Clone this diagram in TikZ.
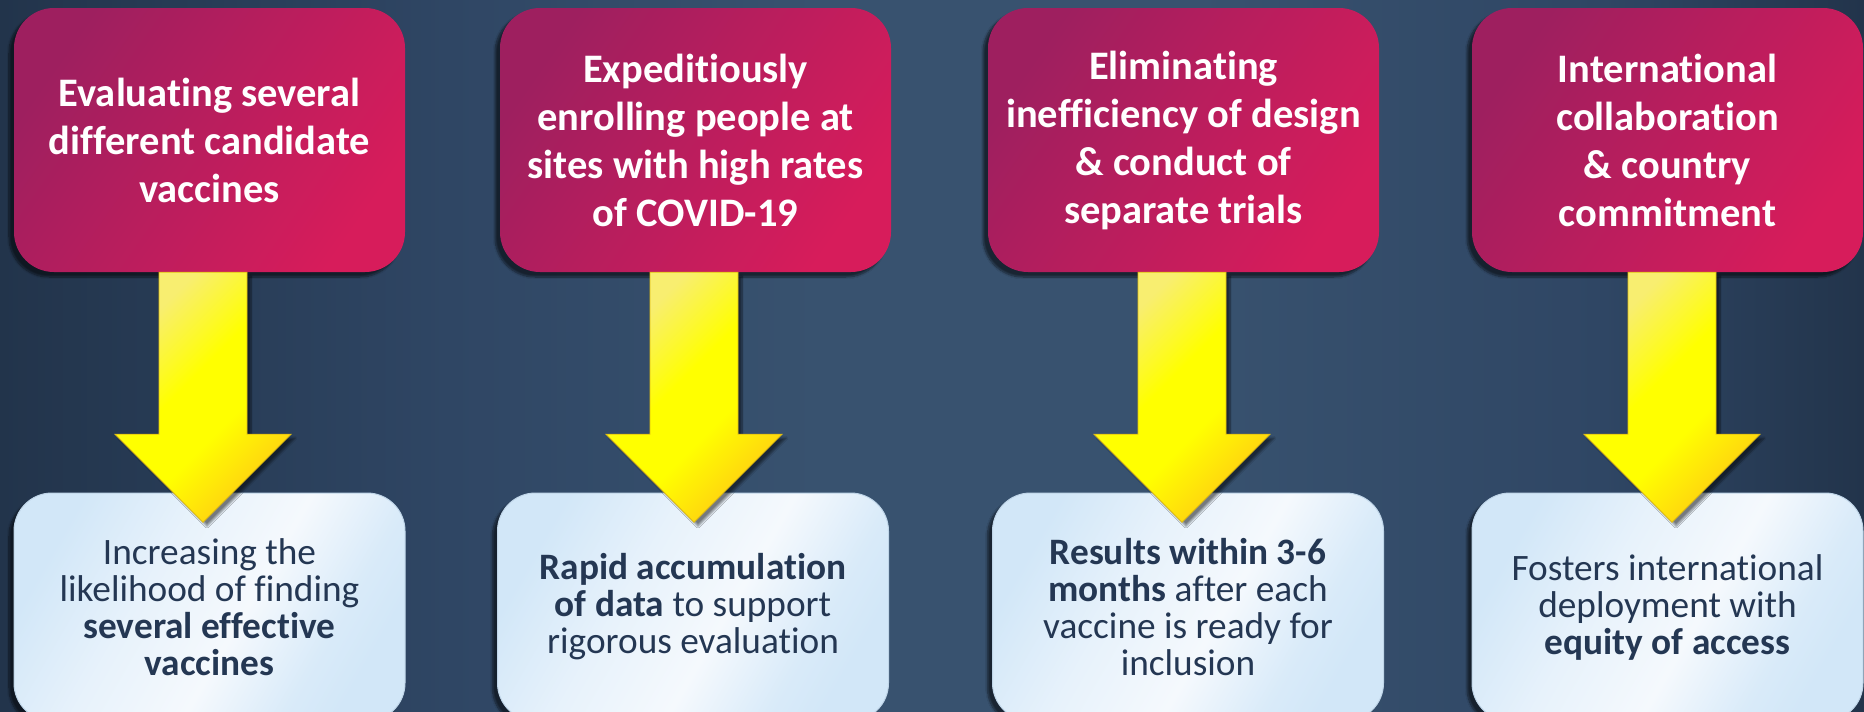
\documentclass[tikz,border=0pt]{standalone}
\usepackage{fontspec}
\setmainfont{Carlito}[Ligatures=NoCommon]
\usetikzlibrary{shadows.blur}
\definecolor{bgA}{HTML}{22344B}
\definecolor{bgB}{HTML}{2F4664}
\definecolor{bgC}{HTML}{38526F}
\definecolor{magA}{HTML}{9E1F5F}
\definecolor{magB}{HTML}{D71C5B}
\definecolor{yA}{HTML}{F8EE70}
\definecolor{yB}{HTML}{FFFF00}
\definecolor{yC}{HTML}{FFD60F}
\definecolor{yEdge}{HTML}{E2BE10}
\definecolor{lbA}{HTML}{D2E7F8}
\definecolor{lbB}{HTML}{F5F9FD}
\definecolor{lbEdge}{HTML}{BFD5E8}
\definecolor{txt}{HTML}{243753}
\pgfdeclarehorizontalshading{bgshade}{100bp}{color(0bp)=(bgA); color(25bp)=(bgA); color(37bp)=(bgB); color(47bp)=(bgC); color(57bp)=(bgC); color(68bp)=(bgB); color(75bp)=(bgA); color(100bp)=(bgA)}
\pgfdeclarehorizontalshading{magshade}{100bp}{color(0bp)=(magA); color(25bp)=(magA); color(75bp)=(magB); color(100bp)=(magB)}
\pgfdeclarehorizontalshading{yshade}{100bp}{color(0bp)=(yA); color(28bp)=(yA); color(45bp)=(yB); color(58bp)=(yB); color(72bp)=(yC); color(100bp)=(yC)}
\pgfdeclarehorizontalshading{lbshade}{100bp}{color(0bp)=(lbA); color(25bp)=(lbA); color(40bp)=(lbB!60!lbA); color(55bp)=(lbB); color(68bp)=(lbA!80!lbB); color(75bp)=(lbA); color(100bp)=(lbA)}
\tikzset{
  topbox/.style={rounded corners=40pt, minimum width=391pt, minimum height=264pt,
    shading=magshade, shading angle=-35, align=center, text=white,
    font=\bfseries\fontsize{40.5}{48}\selectfont,
    blur shadow={shadow xshift=-5pt, shadow yshift=-5pt, shadow opacity=55, shadow blur steps=10}},
  botbox/.style={rounded corners=38pt, minimum width=391pt, minimum height=228pt,
    shading=lbshade, shading angle=-30, draw=lbEdge, line width=1pt, align=center, text=txt,
    font=\fontsize{37.3}{37}\selectfont,
    blur shadow={shadow xshift=-5pt, shadow yshift=-5pt, shadow opacity=55, shadow blur steps=10}},
  yarrow/.style={shading=yshade, shading angle=-45, draw=yEdge, line width=0.8pt,
    blur shadow={shadow xshift=4pt, shadow yshift=-4pt, shadow opacity=50, shadow blur steps=8}},
}
% #1: coordinate of the shaft's upper left corner
\newcommand\blockarrow[1]{%
  \path[yarrow] (#1) -- ++(88,0) -- ++(0,162) -- ++(44,0) -- ++(-88,88) -- ++(-88,-88) -- ++(44,0) -- cycle;}
\begin{document}
\begin{tikzpicture}[x=1pt,y=-1pt]
\useasboundingbox (0,0) rectangle (1864,712);
\fill[shading=bgshade] (0,0) rectangle (1864,712);

\node[topbox] (t1) at (209.5,140) {Evaluating several\\different candidate\\vaccines};
\node[topbox] (t2) at (695.5,140) {Expeditiously\\enrolling people at\\sites with high rates\\of COVID-19};
\node[topbox] (t3) at (1183.5,140) {Eliminating\\inefficiency of design\\\& conduct of\\separate trials};
\node[topbox] (t4) at (1667.5,140) {International\\collaboration\\\& country\\commitment};

\node[botbox] (b1) at (209.5,607) {Increasing the\\likelihood of finding\\\textbf{several effective}\\\textbf{vaccines}};
\node[botbox] (b2) at (693,607) {\textbf{Rapid accumulation}\\\textbf{of data} to support\\rigorous evaluation};
\node[botbox] (b3) at (1188,607) {\textbf{Results within 3-6}\\\textbf{months} after each\\vaccine is ready for\\inclusion};
\node[botbox] (b4) at (1667.5,607) {Fosters international\\deployment with\\\textbf{equity of access}};

\path (t1.south) ++(-50.5,0) coordinate (a1);
\path (t2.south) ++(-45.5,0) coordinate (a2);
\path (t3.south) ++(-45.5,0) coordinate (a3);
\path (t4.south) ++(-39.5,0) coordinate (a4);
\blockarrow{a1}
\blockarrow{a2}
\blockarrow{a3}
\blockarrow{a4}
\end{tikzpicture}
\end{document}
